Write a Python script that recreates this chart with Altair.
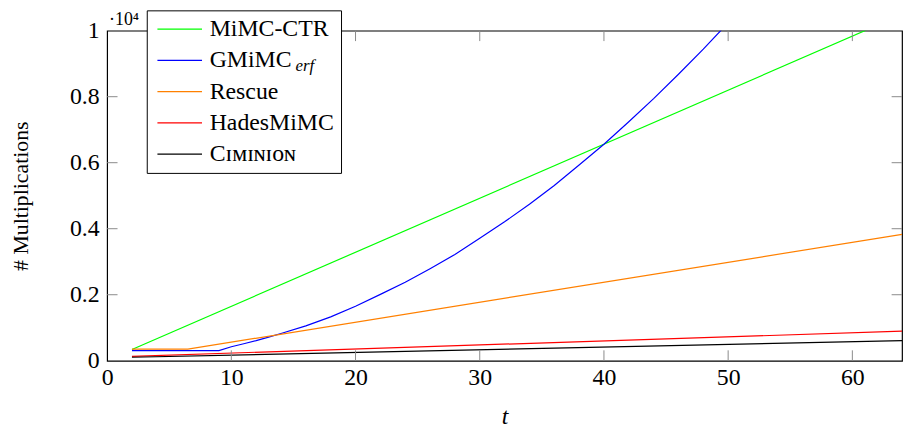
import altair as alt
import pandas as pd

# ---- data ----
series_names = ["MiMC-CTR", "GMiMC_erf", "Rescue", "HadesMiMC", "Ciminion"]
series_colors = ["#00ff00", "#0000ff", "#ff8000", "#ff0000", "#000000"]

mimc_t = [2, 64]
mimc_v = [340, 10490]

gmimc_t = [2, 9, 10, 11, 12, 13, 14, 16, 18, 20, 22, 24, 26, 28, 30, 32, 34, 36, 38, 40, 42, 44, 46, 48, 50]
gmimc_v = [306, 306, 425, 515, 610, 715, 825, 1055, 1330, 1650, 2010, 2380, 2790, 3220, 3710, 4210, 4740,
           5310, 5930, 6560, 7240, 7940, 8680, 9440, 10240]

rescue_t = [2, 6.5, 64]
rescue_v = [350, 350, 3830]

hades_t = [2, 64]
hades_v = [135, 895]

ciminion_t = [2, 64]
ciminion_v = [105, 607]

x_ticks = [10, 20, 30, 40, 50, 60]
y_ticks = [2000, 4000, 6000, 8000]
x_label_values = [0, 10, 20, 30, 40, 50, 60]
y_label_values = [0, 2000, 4000, 6000, 8000, 10000]
x_domain = [0, 64]
y_domain = [0, 10000]

rows = []
for name, ts, vs in [("MiMC-CTR", mimc_t, mimc_v), ("GMiMC_erf", gmimc_t, gmimc_v),
                     ("Rescue", rescue_t, rescue_v), ("HadesMiMC", hades_t, hades_v),
                     ("Ciminion", ciminion_t, ciminion_v)]:
    for i, (t, v) in enumerate(zip(ts, vs)):
        rows.append({"series": name, "t": t, "v": v, "order": i})
df = pd.DataFrame(rows)

FONT = "Liberation Serif"
FS = 24
W, H = 802, 333
TICK = 10.5
TICK_COLOR = "#8a8a8a"

xs = alt.Scale(domain=x_domain, nice=False, zero=False)
ys = alt.Scale(domain=y_domain, nice=False)

x_axis = alt.Axis(values=x_label_values, ticks=False, domain=False, grid=False,
                  labelFont=FONT, labelFontSize=FS, labelPadding=5, labelColor="black",
                  labelFlush=False,
                  title="t", titleFont=FONT, titleFontStyle="italic", titleFontWeight="normal",
                  titleFontSize=FS, titleColor="black", titleX=401, titleY=56,
                  titleBaseline="middle")
y_axis = alt.Axis(values=y_label_values, ticks=False, domain=False, grid=False,
                  labelExpr="datum.value / 10000", labelFont=FONT, labelFontSize=FS,
                  labelPadding=8, labelColor="black", labelFlush=False,
                  title="# Multiplications", titleFont=FONT, titleFontWeight="normal",
                  titleFontSize=22, titleColor="black", titleX=-87, titleY=H / 2,
                  titleBaseline="middle", titleAngle=270)

lines = alt.Chart(df).mark_line(strokeWidth=1.2, clip=True).encode(
    x=alt.X("t:Q", scale=xs, axis=x_axis),
    y=alt.Y("v:Q", scale=ys, axis=y_axis),
    color=alt.Color("series:N", scale=alt.Scale(domain=series_names, range=series_colors),
                    legend=alt.Legend(orient="none", legendX=40, legendY=-20.5, title=None,
                                      strokeColor="black", fillColor="white", padding=7,
                                      symbolType="M-2,0H2", symbolSize=506, symbolStrokeWidth=1.2,
                                      symbolOffset=14.25, labelOffset=18.25,
                                      labelFont=FONT, labelFontSize=FS, labelColor="black",
                                      rowPadding=7.5, cornerRadius=0,
                                      labelExpr="datum.label == 'GMiMC_erf' ? 'GMiMC' : datum.label == 'Ciminion' ? 'Cɪᴍɪɴɪᴏɴ' : datum.label")),
    order="order:Q",
)

xt = pd.DataFrame({"t": x_ticks})
yt = pd.DataFrame({"v": y_ticks})

bottom_ticks = alt.Chart(xt).mark_rule(color=TICK_COLOR, strokeWidth=1).encode(
    x=alt.X("t:Q", scale=xs, axis=x_axis), y=alt.value(H), y2=alt.value(H - TICK))
top_ticks = alt.Chart(xt).mark_rule(color=TICK_COLOR, strokeWidth=1).encode(
    x=alt.X("t:Q", scale=xs, axis=x_axis), y=alt.value(0), y2=alt.value(TICK))
left_ticks = alt.Chart(yt).mark_rule(color=TICK_COLOR, strokeWidth=1).encode(
    y=alt.Y("v:Q", scale=ys, axis=y_axis), x=alt.value(0), x2=alt.value(TICK))
right_ticks = alt.Chart(yt).mark_rule(color=TICK_COLOR, strokeWidth=1).encode(
    y=alt.Y("v:Q", scale=ys, axis=y_axis), x=alt.value(W), x2=alt.value(W - TICK))

exp_label = alt.Chart(pd.DataFrame({"s": ["·10⁴"]})).mark_text(
    font=FONT, fontSize=18, align="left", baseline="alphabetic", color="black").encode(
    text="s:N", x=alt.value(2), y=alt.value(-6))

# subscript "erf" of the GMiMC legend entry, drawn as a second (symbol-less) legend on top
erf_label = alt.Chart(pd.DataFrame({"s": ["erf"]})).mark_text(color="black").encode(
    text=alt.value(""), x=alt.value(0), y=alt.value(0),
    opacity=alt.Opacity("s:N", scale=alt.Scale(range=[1]),
                        legend=alt.Legend(orient="none", legendX=173, legendY=27.5, title=None,
                                          padding=0, symbolOpacity=0, symbolStrokeWidth=0,
                                          symbolFillColor="transparent", symbolStrokeColor="transparent",
                                          symbolSize=1, labelOffset=0,
                                          labelFont=FONT, labelFontSize=17, labelFontStyle="italic",
                                          labelColor="black")))

chart = alt.layer(lines, bottom_ticks, top_ticks, left_ticks, right_ticks, exp_label, erf_label).properties(
    width=W, height=H,
    autosize=alt.AutoSizeParams(type="none"),
    padding={"left": 100, "top": 21, "right": 4, "bottom": 68},
).configure(background="white").configure_view(stroke="black", strokeWidth=1.2)

chart.save("out.html", embed_options={"renderer": "svg", "actions": False})
